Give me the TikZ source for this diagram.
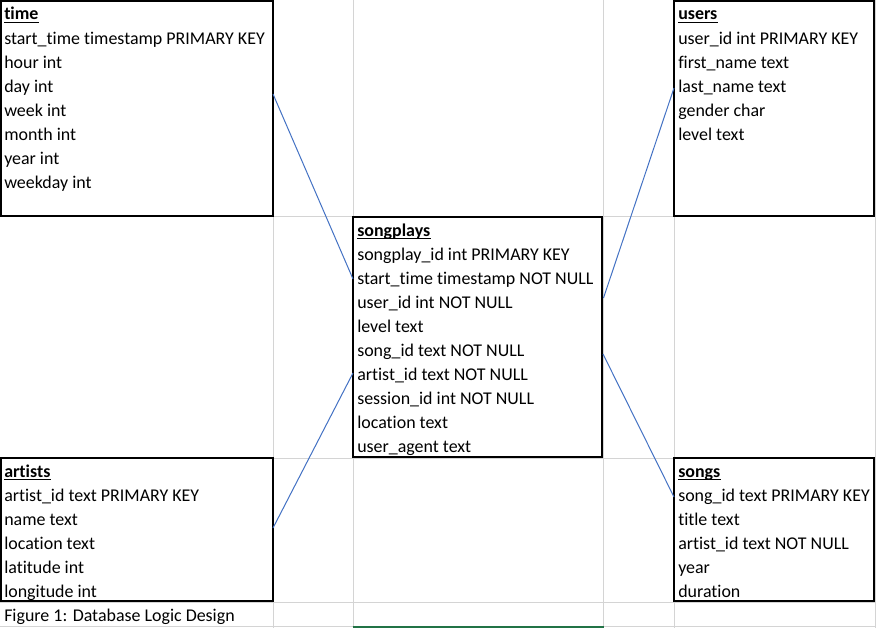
\documentclass[tikz,border=0pt]{standalone}
\usepackage{fontspec}
\setmainfont{Carlito}[Ligatures={NoCommon}]
\usetikzlibrary{calc}
\definecolor{gridc}{HTML}{D4D4D4}
\definecolor{connc}{HTML}{4472C4}
\definecolor{selc}{HTML}{217346}
\begin{document}
\begin{tikzpicture}[x=0.75pt,y=-0.75pt,
  tbl/.style={draw=black, line width=1.5pt, fill=white, inner sep=0pt, outer sep=0pt, anchor=north west},
  cell/.style={font=\fontsize{13.45}{18}\selectfont, inner sep=0pt, anchor=base west, text=black},
  head/.style={cell, font=\fontsize{13.45}{18}\selectfont\bfseries},
  uline/.style={draw=black, line width=0.9pt},
  conn/.style={draw=connc, line width=0.75pt},
  gridline/.style={draw=gridc, line width=0.75pt}]
\useasboundingbox (0,0) rectangle (876,628);
\fill[white] (0,0) rectangle (876,628);
% spreadsheet grid
\foreach \gx in {273,353,603,674,875} \draw[gridline] (\gx,0) -- (\gx,628);
\foreach \gy in {216,458,602,626} \draw[gridline] (0,\gy) -- (876,\gy);
\draw[selc, line width=1.5pt] (352.5,626.5) -- (603.5,626.5);
% boxes
\node[tbl, minimum width=204pt, minimum height=161.25pt] (time) at (1,1) {};
\node[tbl, minimum width=150pt, minimum height=161.25pt] (users) at (674,1) {};
\node[tbl, minimum width=186.75pt, minimum height=180pt] (songplays) at (353,217) {};
\node[tbl, minimum width=204pt, minimum height=107.25pt] (artists) at (1,458) {};
\node[tbl, minimum width=150pt, minimum height=107.25pt] (songs) at (674,458) {};
% titles
\node[head] (time-h) at (4,20) {time};
\node[head] (users-h) at (678,20) {users};
\node[head] (songplays-h) at (357,236) {songplays};
\node[head] (artists-h) at (4,477) {artists};
\node[head] (songs-h) at (678,477) {songs};
\foreach \h in {time-h,users-h,songplays-h,artists-h,songs-h}
  \draw[uline] ([yshift=-1.9pt]\h.base west) -- ([yshift=-1.9pt]\h.base east);
% rows
\foreach [count=\i from 1] \t in {start\_time timestamp PRIMARY KEY, hour int, day int, week int, month int, year int, weekday int}
  \node[cell] (time-\i) at (4,{20+24*\i}) {\t};
\foreach [count=\i from 1] \t in {user\_id int PRIMARY KEY, first\_name text, last\_name text, gender char, level text}
  \node[cell] (users-\i) at (678,{20+24*\i}) {\t};
\foreach [count=\i from 1] \t in {songplay\_id int PRIMARY KEY, start\_time timestamp NOT NULL, user\_id int NOT NULL, level text, song\_id text NOT NULL, artist\_id text NOT NULL, session\_id int NOT NULL, location text, user\_agent text}
  \node[cell] (songplays-\i) at (357,{236+24*\i}) {\t};
\foreach [count=\i from 1] \t in {artist\_id text PRIMARY KEY, name text, location text, latitude int, longitude int}
  \node[cell] (artists-\i) at (4,{477+24*\i}) {\t};
\foreach [count=\i from 1] \t in {song\_id text PRIMARY KEY, title text, artist\_id text NOT NULL, year, duration}
  \node[cell] (songs-\i) at (678,{477+24*\i}) {\t};
\node[cell] (caption) at (4,621) {Figure 1: Database Logic Design};
% connectors
\draw[conn] ($(time.north east)+(0,93)$) -- ($(songplays.north west)+(0,62)$);
\draw[conn] ($(users.north west)+(0,87)$) -- ($(songplays.north east)+(1.5,81)$);
\draw[conn] ($(artists.north east)+(0,70)$) -- ($(songplays.north west)+(0,156)$);
\draw[conn] ($(songplays.north east)+(1,137)$) -- ($(songs.north west)+(0,39)$);
\end{tikzpicture}
\end{document}
